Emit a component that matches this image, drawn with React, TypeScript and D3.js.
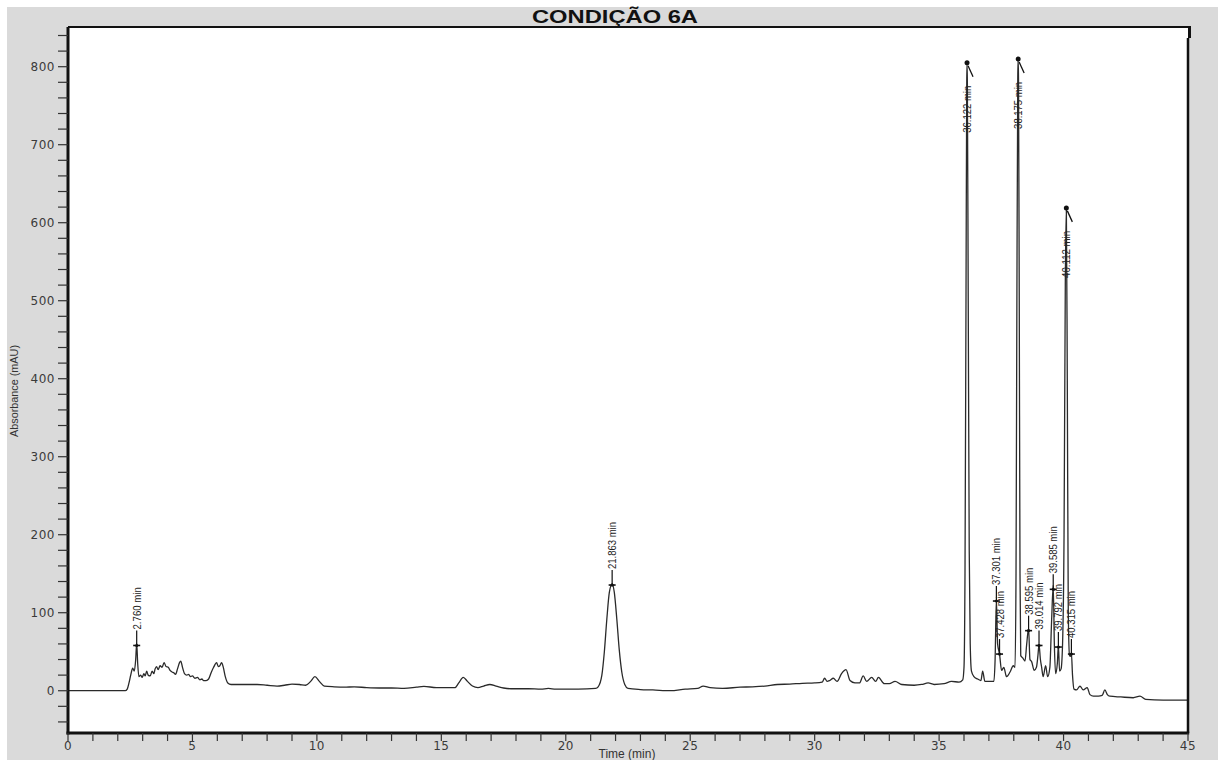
import * as d3 from 'd3';

// chromatogram trace [time (min), absorbance (mAU)]
const trace: [number, number][] = [
  [0, 0], [2.3, 0], [2.38, 2], [2.45, 10], [2.52, 20], [2.6, 29], [2.66, 25], [2.72, 40], [2.76, 61], [2.8, 35],
  [2.85, 18], [2.92, 20], [2.98, 17], [3.05, 22], [3.1, 19], [3.16, 25], [3.22, 20], [3.3, 19], [3.38, 25], [3.45, 22],
  [3.5, 28], [3.56, 31], [3.62, 27], [3.7, 32], [3.78, 30], [3.86, 36], [3.94, 31], [4.03, 30], [4.1, 26], [4.18, 24],
  [4.25, 23], [4.32, 21], [4.4, 28], [4.48, 36], [4.53, 38], [4.6, 30], [4.68, 22], [4.77, 20], [4.85, 21], [4.92, 18],
  [5.0, 19], [5.1, 16], [5.2, 17], [5.3, 14], [5.38, 15], [5.45, 13], [5.55, 13], [5.65, 15], [5.75, 23], [5.85, 30],
  [5.97, 36], [6.04, 31], [6.1, 32], [6.17, 36], [6.24, 30], [6.32, 18], [6.42, 10], [6.55, 8], [6.8, 8], [7.2, 8],
  [7.6, 8], [8.0, 7], [8.4, 6], [8.7, 7], [9.0, 8.5], [9.3, 8], [9.55, 7], [9.75, 12], [9.92, 18], [10.1, 12],
  [10.3, 6], [10.7, 5], [11.1, 4.5], [11.5, 5], [12, 4], [12.5, 3.5], [13, 3.5], [13.5, 3], [14, 4.5], [14.3, 5.5],
  [14.8, 4], [15.3, 4], [15.55, 4], [15.7, 10], [15.88, 17], [16.05, 12], [16.25, 6], [16.47, 4], [16.7, 6], [16.95, 8],
  [17.2, 6], [17.5, 3.5], [17.8, 2.5], [18.5, 2.5], [19, 2], [19.3, 3], [19.6, 2], [20.5, 2], [21.2, 3], [21.3, 5],
  [21.45, 20], [21.55, 50], [21.65, 92], [21.75, 126], [21.863, 137], [21.95, 126], [22.05, 92], [22.15, 52], [22.25, 24], [22.37, 8],
  [22.5, 3], [23, 1.5], [23.5, 1], [24.2, 0], [24.8, 2], [25.3, 3], [25.52, 6], [25.8, 4], [26.3, 3], [27, 4.5],
  [27.5, 5], [28, 6], [28.5, 8], [29, 8.5], [29.5, 9.5], [30, 10], [30.3, 11], [30.4, 16], [30.5, 12], [30.6, 13],
  [30.75, 16], [30.9, 12], [31.08, 22], [31.26, 27], [31.42, 13], [31.62, 10], [31.8, 10], [31.95, 19], [32.09, 12], [32.29, 17],
  [32.45, 12], [32.56, 17], [32.8, 9], [33.0, 9], [33.23, 12], [33.5, 8], [34, 7], [34.3, 8], [34.56, 10], [34.8, 8],
  [35.2, 9], [35.5, 12], [35.8, 11], [35.95, 14], [36.0, 30], [36.04, 150], [36.08, 500], [36.11, 780], [36.122, 805], [36.135, 780],
  [36.17, 500], [36.21, 180], [36.25, 60], [36.3, 25], [36.4, 18], [36.55, 15], [36.68, 13], [36.75, 25], [36.84, 12], [37.0, 12],
  [37.2, 12], [37.25, 40], [37.301, 117], [37.35, 60], [37.428, 47], [37.51, 26], [37.6, 30], [37.71, 18], [37.85, 24], [37.98, 32],
  [38.05, 30], [38.09, 150], [38.125, 500], [38.16, 785], [38.175, 810], [38.19, 785], [38.22, 500], [38.25, 150], [38.28, 45], [38.36, 42],
  [38.45, 38], [38.52, 60], [38.595, 80], [38.65, 40], [38.72, 37], [38.82, 26], [38.91, 30], [38.97, 45], [39.014, 59], [39.07, 40],
  [39.12, 30], [39.18, 18], [39.28, 32], [39.36, 18], [39.45, 30], [39.52, 90], [39.585, 135], [39.63, 60], [39.68, 22], [39.75, 35],
  [39.792, 58], [39.84, 25], [39.9, 28], [39.96, 60], [40.02, 200], [40.07, 520], [40.112, 619], [40.15, 400], [40.19, 100], [40.24, 45],
  [40.28, 44], [40.315, 48], [40.36, 20], [40.42, 2], [40.52, 1], [40.66, 6], [40.79, 1], [40.95, 4], [41.06, -5], [41.2, -7],
  [41.4, -7], [41.55, -6], [41.66, 1], [41.76, -5], [41.86, -7], [42.3, -8], [42.8, -9], [43.07, -7], [43.3, -11], [44, -12],
  [45, -12],
];

// integrated peaks
const peakTimes = [2.76, 21.863, 36.122, 37.301, 37.428, 38.175, 38.595, 39.014, 39.585, 39.792, 40.112, 40.315];
const peakMarks = [58, 135.5, 805, 115, 47, 810, 77, 58, 130, 56, 619, 47];
const peakLabels = ['2.760 min', '21.863 min', '36.122 min', '37.301 min', '37.428 min', '38.175 min', '38.595 min',
  '39.014 min', '39.585 min', '39.792 min', '40.112 min', '40.315 min'];

const xTickLabels = [0, 5, 10, 15, 20, 25, 30, 35, 40, 45];
const yTickLabels = [0, 100, 200, 300, 400, 500, 600, 700, 800];

const W = 1218;
const H = 760;
const left = 68, right = 1188, top = 27, bottom = 733;

export default function App() {
  const x = d3.scaleLinear().domain([0, 45]).range([left, right]);
  const y = d3.scaleLinear().domain([-54.2, 850.9]).range([bottom, top]);

  const line = d3.line<[number, number]>()
    .x(d => x(d[0]))
    .y(d => y(d[1]))
    .curve(d3.curveMonotoneX);

  const xMinor = d3.range(0, 46, 1);
  const yMinor = d3.range(-40, 850, 20);

  const narrow = "'Liberation Sans Narrow', 'Liberation Sans', Arial, sans-serif";
  const tickFont = "'DejaVu Sans', Verdana, sans-serif";

  return (
    <svg width={W} height={H} style={{ position: 'absolute', left: 0, top: 0 }}>
      <rect x={0} y={0} width={W} height={H} fill="#fff" />
      <rect x={7} y={7} width={W - 7} height={H - 7} fill="#dadada" />
      <rect x={left} y={top} width={right - left} height={bottom - top} fill="#fff" />

      <text x={615} y={23} textAnchor="middle" fontFamily="'Liberation Sans', Arial, sans-serif" fontWeight="bold"
        fontSize={18} textLength={166} lengthAdjust="spacingAndGlyphs" fill="#111">CONDIÇÃO 6A</text>

      {/* trace */}
      <path d={line(trace) ?? ''} fill="none" stroke="#2a2a2a" strokeWidth={1.3} strokeLinejoin="round" />

      {/* peak annotations */}
      {peakTimes.map((t, i) => {
        const px = x(t);
        const py = y(peakMarks[i]);
        const lab = peakLabels[i];
        const len = lab.length * 4.7;
        if (peakMarks[i] > 500) {
          return (
            <g key={lab}>
              <circle cx={px} cy={py} r={2.5} fill="#111" />
              <line x1={px + 1} y1={py + 3} x2={px + 6} y2={py + 14} stroke="#111" strokeWidth={1.3} />
              <text transform={`translate(${px},${py + 23}) rotate(-90)`} textAnchor="end" dy="0.35em"
                fontFamily={narrow} fontSize={11.5} textLength={len} lengthAdjust="spacingAndGlyphs" fill="#222">{lab}</text>
            </g>
          );
        }
        return (
          <g key={lab}>
            <line x1={px} y1={py} x2={px} y2={py - 15} stroke="#111" strokeWidth={1.2} />
            <line x1={px - 3.5} y1={py} x2={px + 3.5} y2={py} stroke="#111" strokeWidth={1.6} />
            <circle cx={px} cy={py} r={1.6} fill="#111" />
            <text transform={`translate(${px},${py - 16}) rotate(-90)`} textAnchor="start" dy="0.35em"
              fontFamily={narrow} fontSize={11.5} textLength={len} lengthAdjust="spacingAndGlyphs" fill="#222">{lab}</text>
          </g>
        );
      })}

      {/* frame */}
      <line x1={left} y1={top} x2={right + 3} y2={top} stroke="#111" strokeWidth={2} />
      <rect x={right} y={top} width={3} height={11} fill="#111" />
      <line x1={right} y1={top + 11} x2={right} y2={bottom} stroke="#111" strokeWidth={2.5} />
      <line x1={left} y1={top} x2={left} y2={bottom + 1.5} stroke="#111" strokeWidth={3} />
      <line x1={left - 1.5} y1={bottom} x2={right + 1.2} y2={bottom} stroke="#111" strokeWidth={3} />

      {/* y axis */}
      {yMinor.map(v => (
        <line key={`y${v}`} x1={left - 10} x2={left} y1={y(v)} y2={y(v)} stroke="#333" strokeWidth={1.2} />
      ))}
      {yTickLabels.map(v => (
        <text key={`yl${v}`} x={55} y={y(v)} dy="0.36em" textAnchor="end" fontFamily={tickFont} fontSize={12}
          letterSpacing={0.5} fill="#3a3a3a">{v}</text>
      ))}
      <text transform={`translate(14,391) rotate(-90)`} textAnchor="middle" dy="0.35em" fontFamily={narrow}
        fontSize={11.5} textLength={92} lengthAdjust="spacingAndGlyphs" fill="#333">Absorbance (mAU)</text>

      {/* x axis */}
      {xMinor.map(v => (
        <line key={`x${v}`} x1={x(v)} x2={x(v)} y1={bottom} y2={bottom + 8} stroke="#333" strokeWidth={1.2} />
      ))}
      {xTickLabels.map(v => (
        <text key={`xl${v}`} x={x(v)} y={750} textAnchor="middle" fontFamily={tickFont} fontSize={12}
          letterSpacing={0.5} fill="#3a3a3a">{v}</text>
      ))}
      <text x={627} y={758} textAnchor="middle" fontFamily="'Liberation Sans', Arial, sans-serif" fontSize={12}
        fill="#333">Time (min)</text>
    </svg>
  );
}
